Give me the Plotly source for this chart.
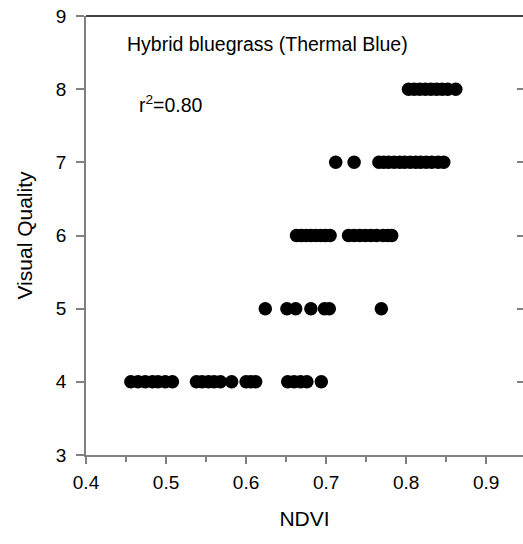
import plotly.graph_objects as go

# Visual quality levels and NDVI values
ndvi_q4 = [0.456, 0.465, 0.474, 0.483, 0.490, 0.499, 0.508, 0.538, 0.545, 0.553, 0.560, 0.568,
           0.582, 0.600, 0.606, 0.612, 0.652, 0.660, 0.668, 0.676, 0.694]
ndvi_q5 = [0.624, 0.651, 0.662, 0.681, 0.698, 0.704, 0.769]
ndvi_q6 = [0.663, 0.669, 0.675, 0.681, 0.687, 0.693, 0.699, 0.705,
           0.728, 0.735, 0.742, 0.749, 0.756, 0.763, 0.771, 0.777, 0.782]
ndvi_q7 = [0.712, 0.735, 0.766, 0.772, 0.778, 0.785, 0.792, 0.798, 0.805, 0.812,
           0.818, 0.825, 0.832, 0.840, 0.847]
ndvi_q8 = [0.803, 0.810, 0.817, 0.824, 0.831, 0.838, 0.845, 0.852, 0.862]

groups = {4: ndvi_q4, 5: ndvi_q5, 6: ndvi_q6, 7: ndvi_q7, 8: ndvi_q8}
xs, ys = [], []
for q, vals in groups.items():
    xs += vals
    ys += [q] * len(vals)

x_ticks = [0.4, 0.5, 0.6, 0.7, 0.8, 0.9]
y_ticks = [3, 4, 5, 6, 7, 8, 9]
title_text = "Hybrid bluegrass (Thermal Blue)"
r2_text = "r<sup>2</sup>=0.80"

FONT = "Liberation Sans, Arial, sans-serif"

fig = go.Figure()
fig.add_trace(go.Scatter(x=xs, y=ys, mode="markers",
                         marker=dict(color="black", size=13.5, line=dict(width=0)),
                         showlegend=False, hoverinfo="skip"))
fig.add_trace(go.Scatter(x=[None], y=[None], yaxis="y2", showlegend=False))

fig.update_layout(
    width=523, height=544,
    margin=dict(l=86, r=0, t=16, b=89),
    paper_bgcolor="white", plot_bgcolor="white",
    font=dict(family=FONT, color="black"),
    xaxis=dict(range=[0.4, 0.946], tickvals=x_ticks, ticktext=[str(v) for v in x_ticks],
               showgrid=False, zeroline=False, showline=True, linecolor="#808080", linewidth=1.5,
               ticks="outside", ticklen=7, tickcolor="#808080", tickwidth=1.5,
               minor=dict(ticks="outside", ticklen=5, dtick=0.05, tick0=0.4,
                          tickcolor="#808080", tickwidth=1.5, showgrid=False),
               tickfont=dict(size=19, family=FONT), ticklabelstandoff=2,
               title=dict(text="NDVI", font=dict(size=21, family=FONT), standoff=20)),
    yaxis=dict(range=[3, 9], tickvals=y_ticks, showgrid=False, zeroline=False,
               showline=True, linecolor="#808080", linewidth=1.5,
               ticks="outside", ticklen=8, tickcolor="#808080", tickwidth=1.5,
               tickfont=dict(size=19, family=FONT), ticklabelstandoff=6,
               title=dict(text="Visual Quality", font=dict(size=21, family=FONT), standoff=18)),
    yaxis2=dict(range=[3, 9], tickvals=y_ticks, overlaying="y", side="right",
                anchor="free", position=1, showline=False, showgrid=False, zeroline=False,
                ticks="inside", ticklen=6, tickcolor="#808080", tickwidth=1.5,
                showticklabels=False),
    shapes=[dict(type="line", xref="paper", yref="paper", x0=0, x1=1, y0=1, y1=1,
                 line=dict(color="black", width=1.5))],
    annotations=[
        dict(text=title_text, xref="x", yref="y", x=0.449, y=8.62, xanchor="left",
             yanchor="middle", showarrow=False, font=dict(size=19.5, family=FONT)),
        dict(text=r2_text, xref="x", yref="y", x=0.464, y=7.8, xanchor="left",
             yanchor="middle", showarrow=False, font=dict(size=19.5, family=FONT)),
    ],
)

fig.write_html("out.html")
